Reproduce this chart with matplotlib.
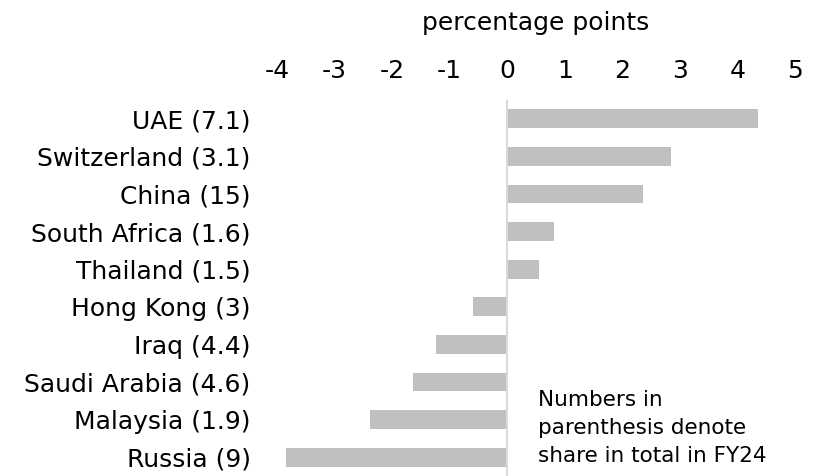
import matplotlib.pyplot as plt

countries = ["UAE (7.1)", "Switzerland (3.1)", "China (15)", "South Africa (1.6)",
             "Thailand (1.5)", "Hong Kong (3)", "Iraq (4.4)", "Saudi Arabia (4.6)",
             "Malaysia (1.9)", "Russia (9)"]
change = [4.35, 2.85, 2.35, 0.82, 0.56, -0.59, -1.23, -1.63, -2.38, -3.84]
xticks = [-4, -3, -2, -1, 0, 1, 2, 3, 4, 5]

fig = plt.figure(figsize=(8.33, 4.76), dpi=100)
ax = fig.add_axes([0.3325, 0.0, 0.622, 0.79])

ypos = range(len(countries))
ax.barh(ypos, change, height=0.5, color="#BFBFBF")
ax.axvline(0, color="#D9D9D9", linewidth=1.5)

ax.set_xlim(-4, 5)
ax.set_ylim(len(countries) - 0.5, -0.5)
ax.set_yticks(list(ypos))
ax.set_yticklabels(countries, fontsize=18)
ax.set_xticks(xticks)
ax.set_xticklabels([str(t) for t in xticks], fontsize=18)
ax.xaxis.tick_top()
ax.xaxis.set_label_position("top")
ax.set_xlabel("percentage points", fontsize=18, labelpad=21)
ax.tick_params(axis="both", length=0)
ax.tick_params(axis="x", pad=12)
ax.tick_params(axis="y", pad=19)
for s in ax.spines.values():
    s.set_visible(False)

ax.text(0.53, 7.2, "Numbers in\nparenthesis denote\nshare in total in FY24",
        fontsize=15.5, va="top", ha="left", linespacing=1.5)

fig.savefig("out.png", dpi=100)
